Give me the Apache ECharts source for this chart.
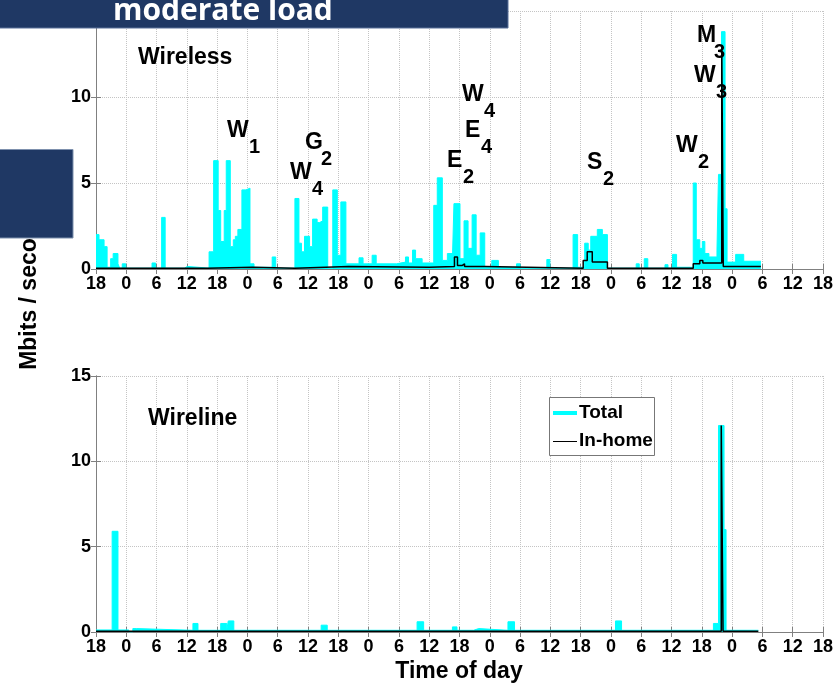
<!DOCTYPE html>
<html>
<head>
  <meta charset="utf-8">
  <title>Wireless / Wireline</title>
  <script src="https://cdn.jsdelivr.net/npm/echarts/dist/echarts.min.js"></script>
  <style>
    html, body { margin: 0; padding: 0; background: #fff; }
    #main { width: 836px; height: 688px; }
  </style>
</head>
<body>

<div id="main"></div>

<script>
  // hours since 18:00 of day one, value in Mbits/s (held until next point)
  const wirelessTotal = [
    [0, 2.0], [0.6, 1.7], [1.6, 1.3], [2.2, 0.1], [2.9, 0.6], [3.4, 0.9], [4.35, 0.3], [4.7, 0.05],
    [5.2, 0.3], [5.9, 0.05], [11.1, 0.35], [11.8, 0.05], [13.0, 3.0], [13.7, 0.05], [17.5, 0.15],
    [18.1, 0.05], [22.4, 1.0], [23.3, 6.3], [24.2, 3.4], [24.7, 1.6], [25.4, 3.4], [25.8, 6.3],
    [26.6, 1.3], [27.2, 1.7], [27.6, 1.9], [28.1, 2.3], [28.9, 4.6], [29.7, 4.7], [30.5, 0.3],
    [31.3, 0.1], [34.9, 0.7], [35.6, 0.05], [39.4, 4.1], [40.2, 1.5], [40.7, 1.0], [41.3, 1.9],
    [42.3, 1.3], [42.9, 2.9], [43.8, 2.7], [44.3, 2.8], [44.9, 3.6], [45.9, 0.05], [46.9, 4.6],
    [47.8, 0.8], [48.5, 3.9], [49.5, 0.3], [52.1, 0.65], [52.9, 0.3], [54.7, 0.8], [55.5, 0.3],
    [59.5, 0.4], [61.3, 0.7], [61.9, 0.35], [62.7, 1.1], [63.3, 0.6], [64.6, 0.35], [66.9, 3.7],
    [67.6, 5.3], [68.6, 0.5], [69.6, 0.9], [70.6, 0.6], [70.9, 3.8], [72.1, 0.6], [72.9, 2.8],
    [73.7, 1.2], [74.5, 3.15], [75.3, 0.8], [76.1, 2.1], [77.0, 0.1], [78.4, 0.5], [79.7, 0.1],
    [83.3, 0.3], [84.0, 0.05], [89.3, 0.55], [89.9, 0.05], [94.5, 2.0], [95.4, 0.1], [96.8, 1.5],
    [97.5, 1.1], [98.0, 1.9], [99.3, 2.3], [100.3, 2.0], [101.3, 0.05], [107.0, 0.3], [107.6, 0.05],
    [108.6, 0.6], [109.3, 0.05], [112.7, 0.25], [113.3, 0.05], [114.2, 0.85], [115.0, 0.1],
    [118.3, 5.0], [118.9, 1.7], [119.6, 1.2], [120.1, 1.6], [120.6, 0.9], [121.4, 0.7], [123.0, 1.1],
    [123.3, 5.5], [123.9, 13.8], [124.6, 3.5], [125.0, 0.4], [126.7, 0.85], [128.3, 0.45], [131.7, 0.45]
  ];

  const wirelessHome = [
    [0, 0.05], [22, 0.1], [31, 0.05], [39.4, 0.15], [50, 0.1], [66, 0.15], [71.0, 0.7], [71.6, 0.2],
    [72.5, 0.3], [73, 0.15], [77, 0.05], [96.5, 0.5], [97.3, 1.0], [98.3, 0.4], [101.3, 0.05],
    [118.3, 0.3], [119.6, 0.5], [120.2, 0.35], [123.95, 13.0], [124.25, 0.15], [131.7, 0.15]
  ];

  const wirelineTotal = [
    [0, 0.12], [3.2, 5.9], [4.35, 0.12], [6.5, 0.0], [7.3, 0.2], [8.0, 0.1], [19.2, 0.5], [20.2, 0.1],
    [24.7, 0.5], [25.9, 0.1], [26.2, 0.65], [27.3, 0.1], [44.6, 0.4], [45.8, 0.1], [63.6, 0.6],
    [64.9, 0.1], [70.6, 0.3], [71.5, 0.1], [74.8, 0.2], [75.8, 0.1], [81.6, 0.6], [82.9, 0.1],
    [102.9, 0.65], [104.1, 0.1], [122.3, 0.5], [123.3, 12.1], [124.4, 6.0], [124.8, 0.1], [131.2, 0.1]
  ];

  const wirelineHome = [
    [0, 0.05], [123.85, 12.1], [124.2, 0.05], [131.2, 0.05]
  ];

  const hourTicks = [18, 0, 6, 12]; // label cycle every 6 h starting at 18:00

  // annotation labels: [letter, subscript, x, y]
  const notes = [
    ['W', '1', 227, 123], ['G', '2', 305, 135], ['W', '4', 290, 165],
    ['E', '2', 447, 153], ['E', '4', 465, 123], ['W', '4', 462, 87],
    ['S', '2', 587, 155], ['W', '2', 676, 138], ['W', '3', 694, 68], ['M', '3', 697, 28]
  ];

  const FONT = 'Liberation Sans, Arial, sans-serif';
  const gridColor = '#c4c4c4';
  const frameColor = '#808080';

  function xBottom(gridIndex) {
    return {
      type: 'value', gridIndex: gridIndex, min: 0, max: 144, interval: 6,
      axisLine: { lineStyle: { color: frameColor } },
      axisTick: { inside: true, length: 5, lineStyle: { color: frameColor } },
      axisLabel: {
        color: '#000', fontSize: 18, fontWeight: 'bold', fontFamily: FONT, margin: 6,
        showMinLabel: true, showMaxLabel: true,
        formatter: function (v) { return String(hourTicks[Math.round(v / 6) % 4]); }
      },
      splitLine: { show: true, lineStyle: { color: gridColor, type: 'dotted' } }
    };
  }
  function xTop(gridIndex) {
    return {
      type: 'value', gridIndex: gridIndex, position: 'top', min: 0, max: 144, interval: 6,
      axisLine: { lineStyle: { color: frameColor } },
      axisTick: { inside: true, length: 5, lineStyle: { color: frameColor } },
      axisLabel: { show: false }, splitLine: { show: false }
    };
  }
  function yLeft(gridIndex) {
    return {
      type: 'value', gridIndex: gridIndex, min: 0, max: 15, interval: 5,
      axisLine: { show: true, lineStyle: { color: frameColor } },
      axisTick: { show: true, inside: true, length: 5, lineStyle: { color: frameColor } },
      axisLabel: { color: '#000', fontSize: 18, fontWeight: 'bold', fontFamily: FONT, margin: 5 },
      splitLine: { show: true, lineStyle: { color: gridColor, type: 'dotted' } }
    };
  }
  function yRight(gridIndex) {
    return {
      type: 'value', gridIndex: gridIndex, position: 'right', min: 0, max: 15, interval: 5,
      axisLine: { show: true, lineStyle: { color: frameColor } },
      axisTick: { show: true, inside: true, length: 5, lineStyle: { color: frameColor } },
      axisLabel: { show: false }, splitLine: { show: false }
    };
  }

  function totalSeries(data, gi) {
    return {
      name: 'Total', type: 'line', step: 'end', data: data,
      xAxisIndex: gi * 2, yAxisIndex: gi * 2,
      showSymbol: false, z: 2,
      lineStyle: { color: '#00ffff', width: 1 },
      itemStyle: { color: '#00ffff' },
      areaStyle: { color: '#00ffff', opacity: 1 }
    };
  }
  function homeSeries(data, gi) {
    return {
      name: 'In-home', type: 'line', step: 'end', data: data,
      xAxisIndex: gi * 2, yAxisIndex: gi * 2,
      showSymbol: false, z: 3,
      lineStyle: { color: '#000', width: 1.5 },
      itemStyle: { color: '#000' }
    };
  }

  const graphics = [];
  function txt(x, y, s, size, extra) {
    graphics.push({
      type: 'text', x: x, y: y, z: 50,
      style: Object.assign({
        text: s, fill: '#000', fontSize: size, fontWeight: 'bold', fontFamily: FONT,
        align: 'left', verticalAlign: 'top'
      }, extra || {})
    });
  }

  txt(138, 46, 'Wireless', 23);
  txt(148, 407, 'Wireline', 23);
  notes.forEach(function (n) {
    txt(n[2], n[3] - 4, n[0], 23);
    const w = n[0] === 'W' ? 22 : (n[0] === 'M' ? 17 : 16);
    txt(n[2] + w, n[3] + 14, n[1], 20);
  });
  txt(459, 672, 'Time of day', 23, { align: 'center', verticalAlign: 'middle' });
  graphics.push({
    type: 'text', x: 30, y: 290, rotation: Math.PI / 2, z: 50,
    style: {
      text: 'Mbits / second', fill: '#000', fontSize: 23, fontWeight: 'bold', fontFamily: FONT,
      align: 'center', verticalAlign: 'middle'
    }
  });

  // legend of the lower panel
  graphics.push({
    type: 'rect', z: 60, shape: { x: 549.5, y: 397.5, width: 105, height: 58 },
    style: { fill: '#fff', stroke: '#777', lineWidth: 1 }
  });
  graphics.push({
    type: 'line', z: 61, shape: { x1: 553, y1: 413, x2: 577, y2: 413 },
    style: { stroke: '#00ffff', lineWidth: 4 }
  });
  graphics.push({
    type: 'line', z: 61, shape: { x1: 553, y1: 441.5, x2: 577, y2: 441.5 },
    style: { stroke: '#000', lineWidth: 1 }
  });
  txt(579, 413, 'Total', 19, { verticalAlign: 'middle' });
  txt(579, 441, 'In-home', 19, { verticalAlign: 'middle' });
  graphics[graphics.length - 1].z = 62;
  graphics[graphics.length - 2].z = 62;

  // slide overlays
  graphics.push({
    type: 'rect', z: 90, shape: { x: -1, y: -1, width: 509, height: 29 },
    style: { fill: '#1f3864', stroke: '#5a7199', lineWidth: 1 }
  });
  graphics.push({
    type: 'text', x: 113, y: 11, z: 91,
    style: {
      text: 'moderate load', fill: '#fff', fontSize: 30, fontWeight: 'bold',
      fontFamily: 'Open Sans, sans-serif', align: 'left', verticalAlign: 'middle'
    }
  });
  graphics.push({
    type: 'rect', z: 90, shape: { x: -1, y: 149.5, width: 74, height: 88.5 },
    style: { fill: '#1f3864', stroke: '#7d90ad', lineWidth: 1 }
  });

  const myChart = echarts.init(document.getElementById('main'));

  const option = {
    backgroundColor: '#fff',
    animation: false,
    grid: [
      { left: 96, top: 11, width: 728, height: 258 },
      { left: 96, top: 376, width: 728, height: 256 }
    ],
    xAxis: [xBottom(0), xTop(0), xBottom(1), xTop(1)],
    yAxis: [yLeft(0), yRight(0), yLeft(1), yRight(1)],
    series: [
      totalSeries(wirelessTotal, 0),
      homeSeries(wirelessHome, 0),
      totalSeries(wirelineTotal, 1),
      homeSeries(wirelineHome, 1)
    ],
    graphic: graphics
  };

  myChart.setOption(option);
</script>
</body>
</html>
